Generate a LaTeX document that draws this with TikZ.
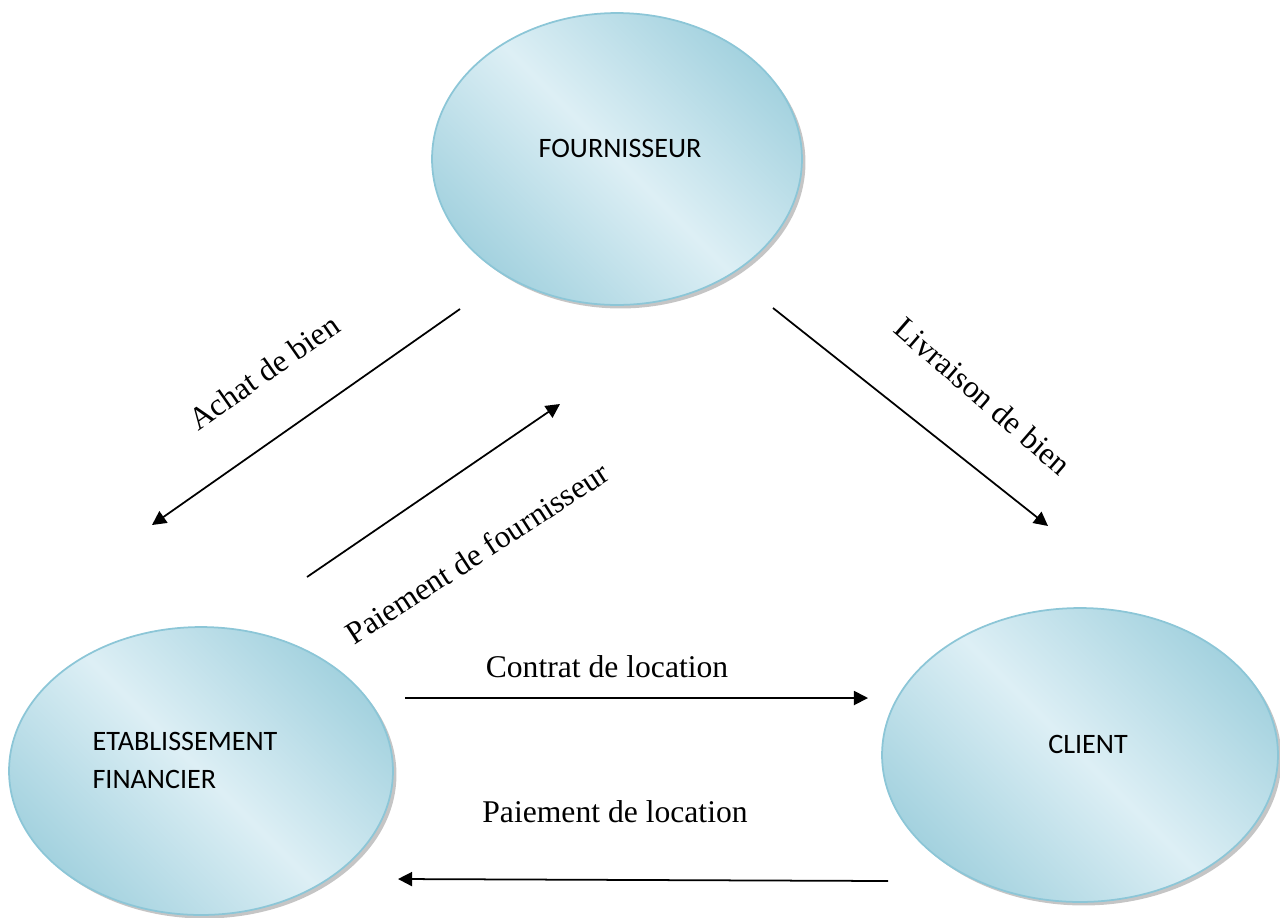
\documentclass[tikz,border=0pt]{standalone}
\usepackage{fontspec}
\setmainfont{Liberation Serif}
\newfontfamily\carlito{Carlito}
\usetikzlibrary{shapes.geometric,shadows,arrows.meta}
\definecolor{bluedark}{HTML}{A4D2DF}
\definecolor{bluelight}{HTML}{DDEFF5}
\definecolor{blueline}{HTML}{8CC6D7}

\begin{document}
\begin{tikzpicture}[x=0.02cm,y=-0.02cm,
    actor/.style={ellipse, draw=blueline, line width=1pt, inner sep=0pt,
        top color=bluedark, bottom color=bluedark, middle color=bluelight,
        shading angle=-45,
        drop shadow={shadow xshift=0.07cm, shadow yshift=-0.07cm, fill=black!45, opacity=0.5}},
    actortxt/.style={font=\carlito\fontsize{16}{21.6}\selectfont, inner sep=0pt},
    flowtxt/.style={font=\fontsize{18}{21}\selectfont, inner sep=0pt},
    flow/.style={line width=1pt, -{Triangle[length=8pt,width=8pt]}}]
    \useasboundingbox (0,0) rectangle (1280,917);
    % the three parties
    \node[actor, minimum width=7.4cm, minimum height=5.84cm] (four) at (617,159) {};
    \node[actor, minimum width=7.68cm, minimum height=5.76cm] (etab) at (201,771) {};
    \node[actor, minimum width=7.92cm, minimum height=5.88cm] (client) at (1080,755) {};
    \node[actortxt] (fourtxt) at (620,148) {FOURNISSEUR};
    \node[actortxt, align=left] (etabtxt) at (185,760) {ETABLISSEMENT\\FINANCIER};
    \node[actortxt] (clienttxt) at (1088,744) {CLIENT};
    % arrow ends
    \coordinate (achatA) at (460,309);
    \coordinate (achatB) at (152,525);
    \coordinate (paiefA) at (307,577);
    \coordinate (paiefB) at (560,404);
    \coordinate (livA) at (773,308);
    \coordinate (livB) at (1048,526);
    \coordinate (contA) at (405,698);
    \coordinate (contB) at (868,698);
    \coordinate (paielA) at (888,881);
    \coordinate (paielB) at (398,879);
    \draw[flow] (achatA) -- (achatB);
    \draw[flow] (paiefA) -- (paiefB);
    \draw[flow] (livA) -- (livB);
    \draw[flow] (contA) -- (contB);
    \draw[flow] (paielA) -- (paielB);
    % labels
    \node[flowtxt, rotate=35] (achattxt) at (264,372) {Achat de bien};
    \node[flowtxt, rotate=33] (paieftxt) at (477,553) {Paiement de fournisseur};
    \node[flowtxt, rotate=-41] (livtxt) at (983,396) {Livraison de bien};
    \node[flowtxt] (conttxt) at (607,667) {Contrat de location};
    \node[flowtxt] (paieltxt) at (615,812) {Paiement de location};
\end{tikzpicture}
\end{document}
